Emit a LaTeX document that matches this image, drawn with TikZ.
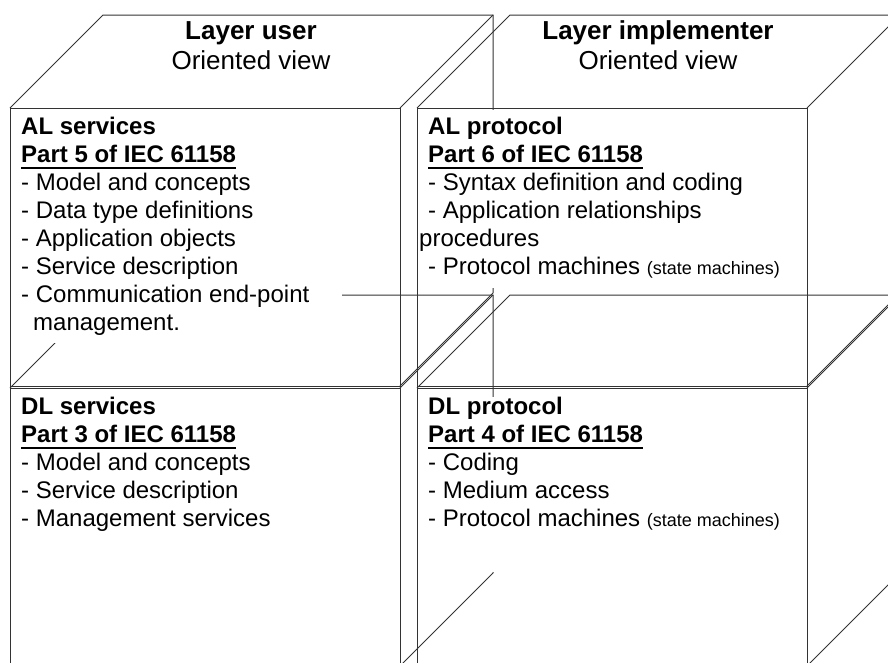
\documentclass[tikz,border=0pt]{standalone}
\usepackage{fontspec}
\setmainfont{Liberation Sans}
\newcommand\partul[1]{\setbox0\hbox{#1}\rlap{\rule[-6.5pt]{\wd0}{2pt}}\box0}
\begin{document}
\begin{tikzpicture}[x=1pt,y=-1pt]
\def\w{390}
\def\h{278}
\def\d{93}
\tikzset{
  edge/.style={line width=1pt,black!80},
  mask/.style={fill=white},
  body/.style={anchor=base west,align=left,inner sep=0pt,font=\fontsize{24}{28}\selectfont},
  head/.style={anchor=base,align=center,inner sep=0pt,font=\fontsize{26}{29.5}\selectfont}
}
\useasboundingbox (0,0) rectangle (888,662);
\clip (0,0) rectangle (888,662);
% the four blocks
\foreach \bx/\by in {10/108,417/108,10/388,417/388}{
  \draw [edge] (\bx,\by) rectangle ++(\w,\h);
  \draw [edge] (\bx,\by) -- ++(\d,-\d) -- ++(\w,0) -- ++(0,\h) -- ++(-\d,\d);
  \draw [edge] (\bx+\w,\by) -- ++(\d,-\d);
}
% white boxes behind the texts
\fill [mask] (11,110) rectangle (342,343);
\fill [mask] (418.5,110) rectangle (806,288);
\fill [mask] (418.5,397) rectangle (806,572);

% base anchor = baseline of the last line
\node [head, name=user] at (251,69) {\textbf{Layer user}\\Oriented view};
\node [head, name=impl] at (658,69) {\textbf{Layer implementer}\\Oriented view};

\node [body, name=alserv] at (21,330) {\textbf{AL services}\\
  \textbf{\partul{Part 5 of IEC 61158}}\\
  - Model and concepts\\
  - Data type definitions\\
  - Application objects\\
  - Service description\\
  - Communication end-point\\
  \hspace*{12pt}management.};
\node [body, name=alprot] at (428,274) {\textbf{AL protocol}\\
  \textbf{\partul{Part 6 of IEC 61158}}\\
  - Syntax definition and coding\\
  - Application relationships\\
  \hspace*{-9pt}procedures\\
  - Protocol machines {\fontsize{18}{18}\selectfont(state machines)}};
\node [body, name=dlserv] at (21,526) {\textbf{DL services}\\
  \textbf{\partul{Part 3 of IEC 61158}}\\
  - Model and concepts\\
  - Service description\\
  - Management services};
\node [body, name=dlprot] at (428,526) {\textbf{DL protocol}\\
  \textbf{\partul{Part 4 of IEC 61158}}\\
  - Coding\\
  - Medium access\\
  - Protocol machines {\fontsize{18}{18}\selectfont(state machines)}};
\end{tikzpicture}
\end{document}
